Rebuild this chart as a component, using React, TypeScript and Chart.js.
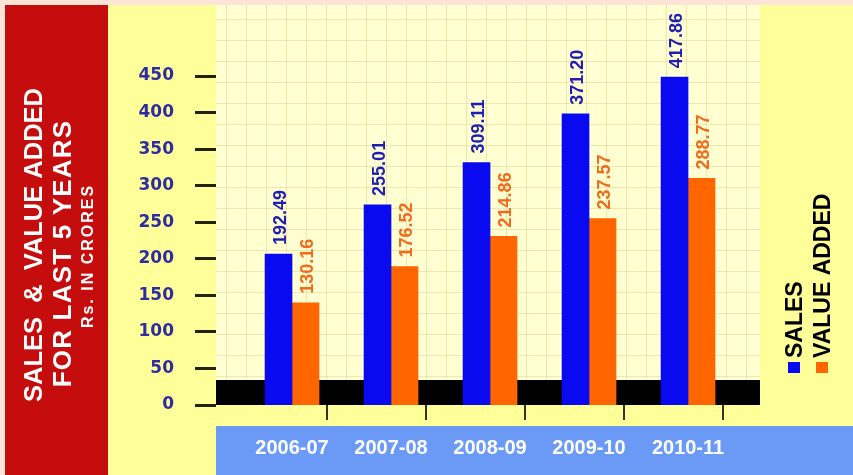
import React, { useEffect, useRef } from 'react';
import { Chart, registerables } from 'chart.js';

Chart.register(...registerables);

// ---- data ----
const categories = ['2006-07', '2007-08', '2008-09', '2009-10', '2010-11'];
const salesValues = [192.49, 255.01, 309.11, 371.2, 417.86];
const valueAddedValues = [130.16, 176.52, 214.86, 237.57, 288.77];
const yTickValues = [0, 50, 100, 150, 200, 250, 300, 350, 400, 450];
const seriesNames = ['SALES', 'VALUE ADDED'];
const titleLines = ['SALES  &  VALUE ADDED', 'FOR LAST 5 YEARS'];
const subtitleText = 'Rs. IN CRORES';

const W = 853;
const H = 475;

const seriesColors = ['#0a0af0', '#ff6600'];
const labelColors = ['#1e1eb4', '#f26a1b'];

// draws text rotated -90deg, with its glyphs horizontally centred on cx
function drawRotated(ctx: CanvasRenderingContext2D, text: string, cx: number, y: number, size: number, align: CanvasTextAlign) {
  ctx.save();
  ctx.translate(cx + size * 0.36, y);
  ctx.rotate(-Math.PI / 2);
  ctx.textAlign = align;
  ctx.textBaseline = 'alphabetic';
  ctx.fillText(text, 0, 0);
  ctx.restore();
}

const decorPlugin = {
  id: 'decor',
  beforeDraw(chart: any) {
    const { ctx, chartArea } = chart;
    const { left, right, top, bottom } = chartArea;
    ctx.save();
    // page / panels
    ctx.fillStyle = '#fde4d7';
    ctx.fillRect(0, 0, W, H);
    ctx.fillStyle = '#c50d0d';
    ctx.fillRect(5, 5, 103, H - 5);
    ctx.fillStyle = '#ffff99';
    ctx.fillRect(108, 5, W - 108, H - 5);
    // grid paper
    ctx.fillStyle = '#ffffd2';
    ctx.fillRect(left, top, right - left, bottom - top);
    ctx.strokeStyle = 'rgba(205,195,120,0.38)';
    ctx.lineWidth = 1;
    ctx.beginPath();
    for (let x = left + 10; x < right; x += 20) {
      ctx.moveTo(Math.round(x) + 0.5, top);
      ctx.lineTo(Math.round(x) + 0.5, bottom);
    }
    for (let y = bottom - 8; y > top; y -= 21) {
      ctx.moveTo(left, Math.round(y) + 0.5);
      ctx.lineTo(right, Math.round(y) + 0.5);
    }
    ctx.stroke();
    // blue category band
    ctx.fillStyle = '#6a9af6';
    ctx.fillRect(left, bottom + 21, W - left, H - bottom - 21);
    // title in red panel
    ctx.fillStyle = '#ffffff';
    ctx.font = 'bold 25.5px "Liberation Sans", Arial, sans-serif';
    drawRotated(ctx, titleLines[0], 32.5, 245, 25.5, 'center');
    ctx.font = 'bold 26px "Liberation Sans", Arial, sans-serif';
    (ctx as any).letterSpacing = '1.2px';
    drawRotated(ctx, titleLines[1], 62, 253.5, 26, 'center');
    ctx.font = 'bold 16px "Liberation Sans", Arial, sans-serif';
    (ctx as any).letterSpacing = '2px';
    drawRotated(ctx, subtitleText, 87.5, 256, 16, 'center');
    (ctx as any).letterSpacing = '0px';
    ctx.restore();
  },
  beforeDatasetsDraw(chart: any) {
    const { ctx, chartArea } = chart;
    const { left, right, bottom } = chartArea;
    const xs = chart.scales.x;
    ctx.save();
    // black base band
    ctx.fillStyle = '#000000';
    ctx.fillRect(left, bottom - 25, right - left, 25);
    // small category divider ticks under the band
    ctx.strokeStyle = '#333322';
    ctx.lineWidth = 2;
    ctx.beginPath();
    categories.forEach((_, i) => {
      const x = Math.round(xs.getPixelForValue(i + 0.35));
      ctx.moveTo(x, bottom);
      ctx.lineTo(x, bottom + 15);
    });
    ctx.stroke();
    ctx.restore();
  },
  afterDatasetsDraw(chart: any) {
    const { ctx, chartArea } = chart;
    ctx.save();
    // value labels above bars
    ctx.font = 'bold 18px "Liberation Sans", Arial, sans-serif';
    chart.data.datasets.forEach((ds: any, di: number) => {
      const meta = chart.getDatasetMeta(di);
      ctx.fillStyle = labelColors[di];
      meta.data.forEach((el: any, i: number) => {
        const v = ds.data[i].y;
        drawRotated(ctx, v.toFixed(2), el.x + 1, el.y - 9, 18, 'left');
      });
    });
    // legend on the right
    ctx.font = 'bold 23px "Liberation Sans", Arial, sans-serif';
    chart.data.datasets.forEach((ds: any, di: number) => {
      const cx = chartArea.right + 34 + di * 28;
      ctx.fillStyle = ds.backgroundColor;
      ctx.fillRect(cx - 6, 362, 12, 11);
      ctx.fillStyle = '#000000';
      drawRotated(ctx, ds.label, cx - 0.5, 358, 23, 'left');
    });
    ctx.restore();
  },
};

export default function App() {
  const canvasRef = useRef<HTMLCanvasElement | null>(null);

  useEffect(() => {
    const canvas = canvasRef.current;
    if (!canvas) return;
    const chart = new Chart(canvas, {
      type: 'bar',
      data: {
        datasets: [
          {
            label: seriesNames[0],
            data: salesValues.map((v, i) => ({ x: i, y: v })),
            backgroundColor: seriesColors[0],
            borderWidth: 0,
            barThickness: 27,
            yAxisID: 'yb',
          },
          {
            label: seriesNames[1],
            data: valueAddedValues.map((v, i) => ({ x: i, y: v })),
            backgroundColor: seriesColors[1],
            borderWidth: 0,
            barThickness: 27,
            yAxisID: 'yb',
          },
        ],
      },
      options: {
        responsive: false,
        animation: false,
        layout: { autoPadding: false, padding: { left: 0, right: 93, top: 5, bottom: 0 } },
        plugins: {
          legend: { display: false },
          title: { display: false },
          tooltip: { enabled: false },
        },
        scales: {
          x: {
            type: 'linear',
            position: 'bottom',
            bounds: 'data',
            offset: false,
            min: -0.768,
            max: 4.727,
            grid: { display: false, offset: false },
            border: { display: false },
            afterBuildTicks: (s: any) => {
              s.ticks = categories.map((_, i) => ({ value: i }));
            },
            afterFit: (s: any) => {
              s.height = 70;
              s.paddingLeft = 0;
              s.paddingRight = 0;
            },
            ticks: {
              autoSkip: false,
              maxRotation: 0,
              padding: 23,
              color: '#ffffff',
              font: { family: '"Liberation Sans", Arial, sans-serif', weight: 'bold', size: 20 },
              callback: (v: any) => categories[Math.round(Number(v))] ?? '',
            },
          },
          y: {
            type: 'linear',
            position: 'left',
            bounds: 'data',
            min: 0,
            max: 547.2,
            afterBuildTicks: (s: any) => {
              s.ticks = yTickValues.map((v) => ({ value: v }));
            },
            afterFit: (s: any) => {
              s.width = 216;
              s.paddingTop = 0;
              s.paddingBottom = 0;
            },
            grid: {
              display: true,
              drawOnChartArea: false,
              drawTicks: true,
              tickLength: 21,
              tickColor: '#222211',
              tickWidth: 3,
            },
            border: { display: false },
            ticks: {
              padding: 21,
              color: '#2d2d9f',
              font: { family: '"DejaVu Sans", sans-serif', weight: 'bold', size: 17 },
              callback: (v: any) => String(v),
            },
          },
          yb: {
            type: 'linear',
            display: false,
            position: 'left',
            bounds: 'data',
            min: 0,
            max: 509.8,
          },
        },
      } as any,
      plugins: [decorPlugin],
    });
    return () => chart.destroy();
  }, []);

  return (
    <div style={{ position: 'fixed', left: 0, top: 0, width: W, height: H }}>
      <canvas ref={canvasRef} width={W} height={H} style={{ display: 'block', width: W, height: H }} />
    </div>
  );
}
